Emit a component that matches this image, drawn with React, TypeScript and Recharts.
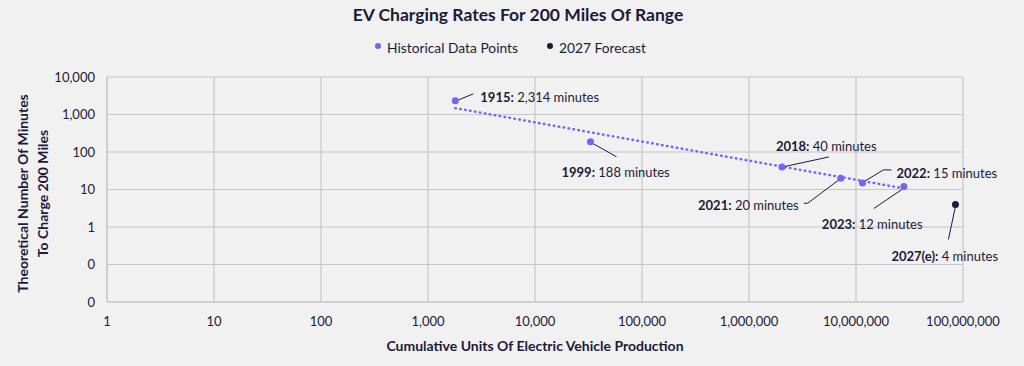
import React from "react";
import {
  CartesianGrid,
  Scatter,
  ScatterChart,
  XAxis,
  YAxis,
} from "recharts";

// historical points
const years = ["1915", "1999", "2018", "2021", "2022", "2023"];
const units = [1800, 33000, 2030000, 7200000, 11500000, 28000000];
const minutes = [2314, 188, 40, 20, 15, 12];

// 2027 forecast
const forecastYears = ["2027(e)"];
const forecastUnits = [85000000];
const forecastMinutes = [4];

// power trendline endpoints (straight on log-log)
const trendUnits = [1800, 28000000];
const trendMinutes = [1480, 10.7];

const xTicks = [1, 10, 100, 1000, 10000, 100000, 1000000, 10000000, 100000000];
const yTicks = [0.01, 0.1, 1, 10, 100, 1000, 10000];

const PURPLE = "#7b61f8";
const NAVY = "#1c1a3a";
const GRID = "#c6c6cc";
const FONT = "Lato, 'Noto Sans', sans-serif";

// leader line + label placement, offsets from the point in px
const callouts: Record<
  string,
  { line: number[][]; tx: number; ty: number; anchor: "start" | "end" }
> = {
  "1915": { line: [[1, 0], [18, -7]], tx: 25, ty: -4, anchor: "start" },
  "1999": { line: [[1, 1], [26, 15]], tx: -29, ty: 30, anchor: "start" },
  "2018": { line: [[1, 0], [47, -10]], tx: -6, ty: -21, anchor: "start" },
  "2021": { line: [[-1, 1], [-33, 25], [-37, 25]], tx: -42, ty: 27, anchor: "end" },
  "2022": { line: [[1, -1], [21, -13], [29, -13]], tx: 34, ty: -10, anchor: "start" },
  "2023": { line: [[-2, 3], [-30, 22]], tx: -82, ty: 37, anchor: "start" },
  "2027(e)": { line: [[0, 2], [-7, 35]], tx: -64, ty: 52, anchor: "start" },
};

const historical = years.map((y, i) => ({ year: y, x: units[i], y: minutes[i] }));
const forecast = forecastYears.map((y, i) => ({
  year: y,
  x: forecastUnits[i],
  y: forecastMinutes[i],
}));
const trend = trendUnits.map((u, i) => ({ x: u, y: trendMinutes[i] }));

const legendItems = [
  { name: "Historical Data Points", color: PURPLE },
  { name: "2027 Forecast", color: NAVY },
];

const fmt = (v: number) => Math.round(v).toLocaleString("en-US");

function Callout(color: string) {
  return (props: any) => {
    const { cx, cy, payload } = props;
    const c = callouts[payload.year];
    return (
      <g>
        {c && (
          <polyline
            points={c.line.map(([dx, dy]) => `${cx + dx},${cy + dy}`).join(" ")}
            fill="none"
            stroke={NAVY}
            strokeWidth={1}
          />
        )}
        <circle cx={cx} cy={cy} r={3.5} fill={color} />
        {c && (
          <text
            x={cx + c.tx}
            y={cy + c.ty}
            textAnchor={c.anchor}
            dominantBaseline="central"
            fontFamily={FONT}
            fontSize={13}
            fill={NAVY}
          >
            <tspan fontWeight={700}>{payload.year}:</tspan>
            <tspan> {payload.y.toLocaleString("en-US")} minutes</tspan>
          </text>
        )}
      </g>
    );
  };
}

export default function App() {
  return (
    <div
      style={{
        position: "absolute",
        left: 0,
        top: 0,
        width: 1024,
        height: 366,
        background: "#f1f1f1",
        fontFamily: FONT,
        color: NAVY,
      }}
    >
      <div
        style={{
          position: "absolute",
          top: 4,
          width: 1036,
          textAlign: "center",
          fontSize: 17.5,
          fontWeight: 700,
        }}
      >
        EV Charging Rates For 200 Miles Of Range
      </div>
      <div
        style={{
          position: "absolute",
          top: 39,
          left: 375,
          display: "flex",
          gap: 29,
          fontSize: 13.8,
        }}
      >
        {legendItems.map((it) => (
          <div key={it.name} style={{ display: "flex", alignItems: "center" }}>
            <span
              style={{
                display: "inline-block",
                width: 6,
                height: 6,
                borderRadius: 3,
                background: it.color,
                marginRight: 6,
                marginTop: -4,
              }}
            />
            {it.name}
          </div>
        ))}
      </div>
      <ScatterChart
        width={1024}
        height={366}
        margin={{ top: 77, right: 61, bottom: 0, left: 0 }}
      >
        <CartesianGrid stroke={GRID} strokeWidth={1.2} />
        <XAxis
          type="number"
          dataKey="x"
          scale="log"
          domain={[1, 100000000]}
          ticks={xTicks}
          tickFormatter={fmt}
          tickLine={false}
          axisLine={{ stroke: GRID }}
          tickMargin={9}
          height={64}
          tick={{ fill: NAVY, fontSize: 13, fontFamily: FONT }}
          interval={0}
          label={{
            content: (p: any) => (
              <text
                x={p.viewBox.x + p.viewBox.width / 2}
                y={p.viewBox.y + 43}
                textAnchor="middle"
                dominantBaseline="central"
                fontFamily={FONT}
                fontSize={14}
                fontWeight={700}
                fill={NAVY}
              >
                Cumulative Units Of Electric Vehicle Production
              </text>
            ),
          }}
        />
        <YAxis
          type="number"
          dataKey="y"
          scale="log"
          domain={[0.01, 10000]}
          ticks={yTicks}
          tickFormatter={fmt}
          tickLine={false}
          axisLine={{ stroke: GRID }}
          tickMargin={6}
          width={107}
          tick={{ fill: NAVY, fontSize: 13, fontFamily: FONT }}
          interval={0}
          label={{
            content: (p: any) => {
              const cy = p.viewBox.y + p.viewBox.height / 2 + 4;
              return (
                <g fontFamily={FONT} fontSize={14} fontWeight={700} fill={NAVY}>
                  <text
                    x={22}
                    y={cy}
                    textAnchor="middle"
                    dominantBaseline="central"
                    transform={`rotate(-90, 22, ${cy})`}
                  >
                    Theoretical Number Of Minutes
                  </text>
                  <text
                    x={42}
                    y={cy}
                    textAnchor="middle"
                    dominantBaseline="central"
                    transform={`rotate(-90, 42, ${cy})`}
                  >
                    To Charge 200 Miles
                  </text>
                </g>
              );
            },
          }}
        />
        <Scatter
          name="trend"
          data={trend}
          legendType="none"
          line={{ stroke: PURPLE, strokeWidth: 2.5, strokeDasharray: "0.5 4.5", strokeLinecap: "round" }}
          shape={() => <g />}
          isAnimationActive={false}
        />
        <Scatter
          name="Historical Data Points"
          data={historical}
          fill={PURPLE}
          shape={Callout(PURPLE)}
          isAnimationActive={false}
        />
        <Scatter
          name="2027 Forecast"
          data={forecast}
          fill={NAVY}
          shape={Callout(NAVY)}
          isAnimationActive={false}
        />
      </ScatterChart>
    </div>
  );
}
